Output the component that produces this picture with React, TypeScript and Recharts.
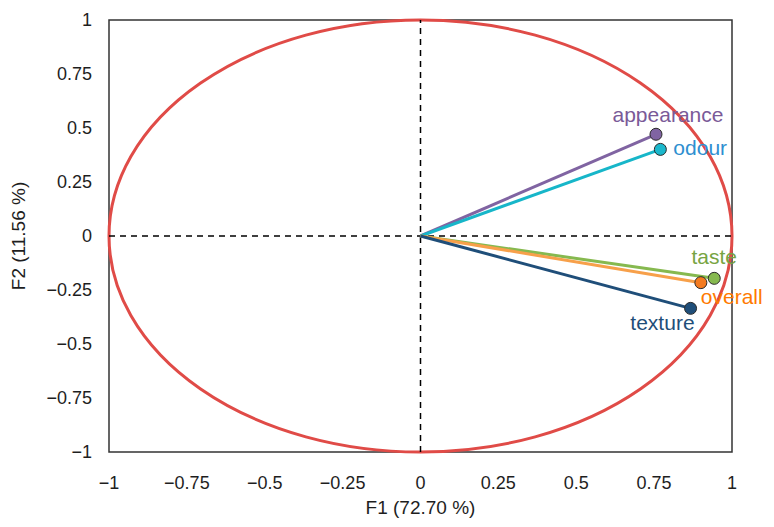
import React from 'react'
import {
  ScatterChart,
  Scatter,
  XAxis,
  YAxis,
  ReferenceLine,
  ReferenceArea,
} from 'recharts'

// Variable loadings on the first two factors
const variables = ['appearance', 'odour', 'taste', 'overall', 'texture']
const f1Loadings = [0.756, 0.77, 0.943, 0.9, 0.867]
const f2Loadings = [0.471, 0.401, -0.196, -0.216, -0.335]

const axisTicks = [-1, -0.75, -0.5, -0.25, 0, 0.25, 0.5, 0.75, 1]

// line colour, marker fill, label colour, label placement
const STYLES: Record<string, { line: string; dot: string; text: string; dx: number; dy: number; anchor: 'start' | 'middle' | 'end' }> = {
  appearance: { line: '#8064a2', dot: '#8064a2', text: '#7a5a98', dx: 12, dy: -12, anchor: 'middle' },
  odour: { line: '#17b6c9', dot: '#1bb8cc', text: '#2e8fd0', dx: 13, dy: 6, anchor: 'start' },
  taste: { line: '#86b94f', dot: '#86b94f', text: '#77a443', dx: 0, dy: -14, anchor: 'middle' },
  overall: { line: '#f7a04a', dot: '#f47b20', text: '#ff7a00', dx: 0, dy: 21, anchor: 'start' },
  texture: { line: '#1f4e79', dot: '#1f4e79', text: '#1f4e79', dx: 4, dy: 22, anchor: 'end' },
}

const FONT = '"Liberation Sans", Arial, sans-serif'
const TEXT = '#1e1e1e'

const fmt = (v: number) => String(v).replace('-', '\u2212')

// Correlation circle drawn inside the [-1,1] x [-1,1] box
const CircleShape = (props: any) => {
  const { x, y, width, height } = props
  return (
    <ellipse
      cx={x + width / 2}
      cy={y + height / 2}
      rx={width / 2}
      ry={height / 2}
      fill="none"
      stroke="#e04b47"
      strokeWidth={3}
    />
  )
}

const VectorEnd = (props: any) => {
  const { cx, cy, payload } = props
  if (!payload || payload.origin) return <g />
  const s = STYLES[payload.name]
  return (
    <g>
      <circle cx={cx} cy={cy} r={6} fill={s.dot} stroke="#2b2b2b" strokeWidth={1} />
      <text
        x={cx + s.dx}
        y={cy + s.dy}
        textAnchor={s.anchor}
        fill={s.text}
        fontSize={21}
        fontFamily={FONT}
      >
        {payload.name}
      </text>
    </g>
  )
}

const YTitle = (props: any) => {
  const { viewBox } = props
  const cx = 18
  const cy = viewBox.y + viewBox.height / 2
  return (
    <text
      x={cx}
      y={cy}
      transform={`rotate(-90 ${cx} ${cy})`}
      textAnchor="middle"
      dominantBaseline="central"
      fontSize={19}
      fontFamily={FONT}
      fill={TEXT}
    >
      F2 (11.56 %)
    </text>
  )
}

export default function App() {
  const series = variables.map((name, i) => ({
    name,
    data: [
      { x: 0, y: 0, name, origin: true },
      { x: f1Loadings[i], y: f2Loadings[i], name, origin: false },
    ],
  }))

  return (
    <div style={{ position: 'absolute', left: 0, top: 0, width: 774, height: 527, background: '#fff' }}>
      <ScatterChart width={774} height={527} margin={{ top: 20, right: 42, bottom: 0, left: 0 }}>
        <XAxis
          type="number"
          dataKey="x"
          domain={[-1, 1]}
          ticks={axisTicks}
          tickFormatter={fmt}
          height={75}
          axisLine={false}
          tickLine={false}
          tickSize={0}
          tickMargin={24}
          tick={{ fontSize: 18, fontFamily: FONT, fill: TEXT }}
          label={{ value: 'F1 (72.70 %)', position: 'insideBottom', offset: 13, fontSize: 19, fontFamily: FONT, fill: TEXT }}
        />
        <YAxis
          type="number"
          dataKey="y"
          domain={[-1, 1]}
          ticks={axisTicks}
          tickFormatter={fmt}
          width={109}
          axisLine={false}
          tickLine={false}
          tickSize={0}
          tickMargin={17}
          tick={{ fontSize: 18, fontFamily: FONT, fill: TEXT }}
          label={<YTitle />}
        />
        {/* plot frame */}
        <ReferenceArea x1={-1} x2={1} y1={-1} y2={1} fill="none" stroke="#333" strokeWidth={1.5} ifOverflow="visible" />
        <ReferenceLine x={0} stroke="#000" strokeWidth={1.5} strokeDasharray="6 5" />
        <ReferenceLine y={0} stroke="#000" strokeWidth={1.5} strokeDasharray="6 5" />
        <ReferenceArea x1={-1} x2={1} y1={-1} y2={1} shape={<CircleShape />} ifOverflow="visible" />
        {series.map(s => (
          <Scatter
            key={s.name}
            name={s.name}
            data={s.data}
            line={{ stroke: STYLES[s.name].line, strokeWidth: 3 }}
            lineType="joint"
            shape={<VectorEnd />}
            isAnimationActive={false}
          />
        ))}
      </ScatterChart>
    </div>
  )
}
